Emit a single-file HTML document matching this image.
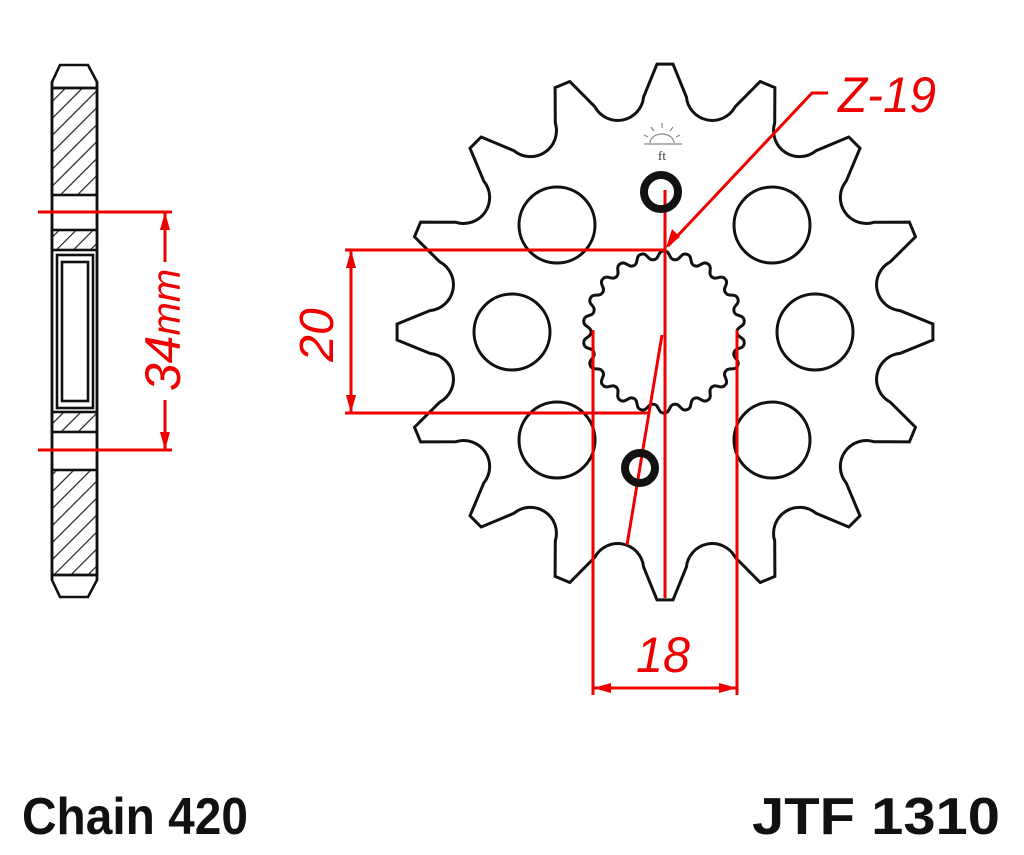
<!DOCTYPE html>
<html><head><meta charset="utf-8"><style>
html,body{margin:0;padding:0;background:#fff;}
svg{display:block;}
</style></head><body>
<svg id="s" width="1024" height="855" viewBox="0 0 1024 855" xmlns="http://www.w3.org/2000/svg">
<defs>
<pattern id="h" patternUnits="userSpaceOnUse" width="12" height="12" patternTransform="rotate(45)">
<rect width="12" height="12" fill="#fff"/><line x1="0" y1="0" x2="0" y2="12" stroke="#222" stroke-width="2.4"/>
</pattern>
</defs>
<g stroke="#111" stroke-width="2.6" fill="none">
<path d="M60 65 L88 65 L97 82 L97 580 L88 597 L60 597 L52 580 L52 82 Z" fill="#fff"/>
<rect x="52" y="88" width="45" height="107" fill="url(#h)"/>
<rect x="52" y="230" width="45" height="20" fill="url(#h)"/>
<rect x="52" y="412" width="45" height="20" fill="url(#h)"/>
<rect x="52" y="470" width="45" height="105" fill="url(#h)"/>
<line x1="52" y1="88" x2="97" y2="88"/><line x1="52" y1="575" x2="97" y2="575"/>
<rect x="57" y="255" width="36" height="153" fill="#fff"/>
<rect x="62" y="262" width="26" height="139"/>
<path d="M52 82 L52 580 M97 82 L97 580"/>
</g>
<path id="sp" fill="#fff" stroke="#111" stroke-width="3"/>
<path id="spl" fill="#fff" stroke="#111" stroke-width="3"/>
<g stroke="#111" stroke-width="3" fill="none">
<circle cx="557" cy="225" r="38"/><circle cx="772" cy="225" r="38"/>
<circle cx="512" cy="332" r="38"/><circle cx="815" cy="332" r="38"/>
<circle cx="557" cy="440" r="38"/><circle cx="772" cy="440" r="38"/>
</g>
<g stroke="#888" stroke-width="1.2" fill="none">
<path d="M650 143 A12 9 0 0 1 674 143"/><line x1="644" y1="144" x2="682" y2="144"/>
<path d="M662 128v-5M654 131l-3-4M670 131l3-4M648 137l-4-2M676 137l4-2"/>
</g>
<text x="662" y="160" font-family="Liberation Serif,serif" font-size="13" fill="#333" text-anchor="middle">ft</text>
<g stroke="#e00" stroke-width="3" fill="none">
<line x1="38" y1="212" x2="172" y2="212"/><line x1="38" y1="450" x2="172" y2="450"/>
<line x1="165" y1="212" x2="165" y2="262"/><line x1="165" y1="400" x2="165" y2="450"/>
<line x1="345" y1="250" x2="665" y2="250"/><line x1="345" y1="413" x2="650" y2="413"/>
<line x1="351" y1="250" x2="351" y2="413"/>
<line x1="665" y1="190" x2="665" y2="598"/>
<line x1="662" y1="335" x2="627" y2="545"/>
<line x1="593" y1="330" x2="593" y2="695"/><line x1="737" y1="330" x2="737" y2="695"/>
<line x1="593" y1="688" x2="737" y2="688"/>
<polyline points="668,246 812,93 828,93"/>
</g>
<g fill="#e00">
<polygon points="165,212 160,230 170,230"/><polygon points="165,450 160,432 170,432"/>
<polygon points="351,250 346,268 356,268"/><polygon points="351,413 346,395 356,395"/>
<polygon points="593,688 611,683 611,693"/><polygon points="737,688 719,683 719,693"/>
<polygon points="666,248 672,229 680,237"/>
</g>
<g stroke="#111" stroke-width="8" fill="none">
<circle cx="661" cy="192" r="17"/><circle cx="640" cy="468" r="15"/>
</g>
<g fill="#e00" font-family="Liberation Sans,sans-serif" font-style="italic" font-size="50">
<text x="0" y="0" transform="translate(180,330) rotate(-90)" text-anchor="middle">34<tspan font-size="40">mm</tspan></text>
<text x="0" y="0" transform="translate(333,335) rotate(-90)" text-anchor="middle" font-size="48">20</text>
<text x="636" y="672" textLength="54" lengthAdjust="spacingAndGlyphs">18</text>
<text x="838" y="112" textLength="98" lengthAdjust="spacingAndGlyphs">Z-19</text>
</g>
<g fill="#111" font-family="Liberation Sans,sans-serif" font-weight="bold" font-size="52">
<text x="22" y="834" textLength="226" lengthAdjust="spacingAndGlyphs">Chain 420</text>
<text x="752" y="834" textLength="248" lengthAdjust="spacingAndGlyphs">JTF 1310</text>
</g>
</svg>
<script>
(function(){
var cx=665,cy=332,N=16,R=268,rr=236,ar=26,d="";
function P(r,a){a=a*Math.PI/180;return [(cx+r*Math.sin(a)).toFixed(1),(cy-r*Math.cos(a)).toFixed(1)];}
for(var i=0;i<N;i++){
 var t=i*360/N;
 var a=P(R,t-1.7),b=P(R,t+1.7),c=P(rr,t+5.2),e=P(rr,t+22.5-5.2);
 d+=(i==0?"M":"L")+a[0]+" "+a[1]+" L"+b[0]+" "+b[1]+" L"+c[0]+" "+c[1]+" A"+ar+" "+ar+" 0 0 0 "+e[0]+" "+e[1]+" ";
}
d+="Z";
document.getElementById("sp").setAttribute("d",d);
var s="",M=720;
for(var j=0;j<=M;j++){
 var th=j/M*2*Math.PI;
 var w=Math.cos(22*th);
 var r=77+4*Math.tanh(1.2*w)/Math.tanh(1.2);
 s+=(j==0?"M":"L")+(664+r*Math.sin(th)).toFixed(1)+" "+(332-r*Math.cos(th)).toFixed(1)+" ";
}
document.getElementById("spl").setAttribute("d",s+"Z");
})();
</script>
</body></html>
